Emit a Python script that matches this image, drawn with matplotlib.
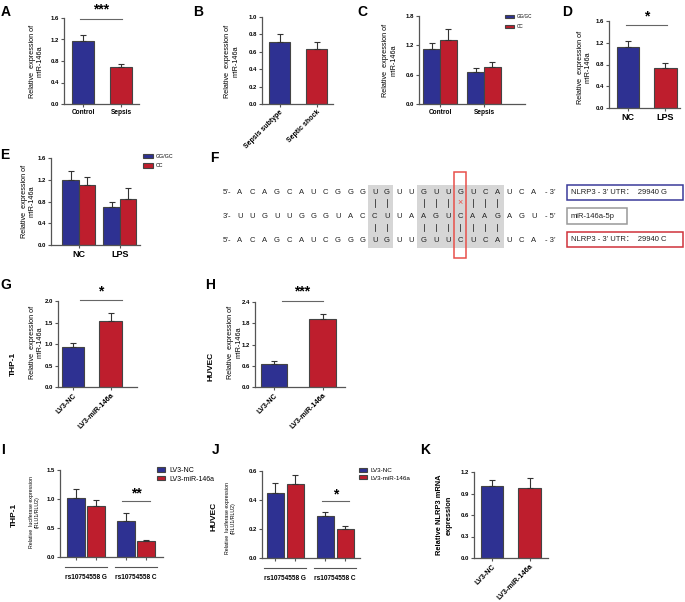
import numpy as np
import matplotlib
matplotlib.use('Agg')
import matplotlib.pyplot as plt
from matplotlib.patches import Rectangle

plt.rcParams['font.family'] = ['Liberation Sans', 'DejaVu Sans']

# ---- data ----
a_groups = ['Control', 'Sepsis']
a_mean = [1.18, 0.68]
a_err = [0.10, 0.06]

b_groups = ['Sepsis subtype', 'Septic shock']
b_mean = [0.71, 0.63]
b_err = [0.09, 0.08]

genotypes = ['GG/GC', 'CC']
c_groups = ['Control', 'Sepsis']
c_gg = [1.13, 0.66]
c_gg_err = [0.11, 0.08]
c_cc = [1.31, 0.75]
c_cc_err = [0.22, 0.10]

d_groups = ['NC', 'LPS']
d_mean = [1.13, 0.73]
d_err = [0.11, 0.10]

e_groups = ['NC', 'LPS']
e_gg = [1.19, 0.70]
e_gg_err = [0.17, 0.09]
e_cc = [1.11, 0.84]
e_cc_err = [0.14, 0.21]

lv_groups = ['LV3-NC', 'LV3-miR-146a']
g_mean = [0.93, 1.54]
g_err = [0.09, 0.17]
h_mean = [0.64, 1.91]
h_err = [0.09, 0.15]

snp_groups = ['rs10754558 G', 'rs10754558 C']
i_nc = [1.01, 0.62]
i_nc_err = [0.17, 0.14]
i_mir = [0.88, 0.28]
i_mir_err = [0.11, 0.01]
j_nc = [0.45, 0.29]
j_nc_err = [0.07, 0.03]
j_mir = [0.51, 0.20]
j_mir_err = [0.06, 0.02]

k_mean = [1.00, 0.98]
k_err = [0.09, 0.13]

# panel F sequences
seq_g = 'ACAGCAUCGGGUGUUGUUGUCAUCA'
mirna = 'UUGUUGGGUACCUUAAGUCAAGAGU'
seq_c = 'ACAGCAUCGGGUGUUGUUCUCAUCA'
pairs_top = [11, 12, 15, 16, 17, 19, 20, 21]
mismatch = 18
pairs_bot = [11, 12, 15, 16, 17, 18, 19, 20, 21]
seed_blocks = [(11, 12), (15, 21)]

W, H = 685, 602
BLUE = '#2e3192'
RED = '#be1e2d'
EDGE = '#444444'
AXC = '#555555'

fig = plt.figure(figsize=(W / 100, H / 100), dpi=100)


def panel(x0, y0, x1, y1, xlim):
    ax = fig.add_axes([x0 / W, 1 - y1 / H, (x1 - x0) / W, (y1 - y0) / H])
    ax.patch.set_alpha(0)
    for s in ['top', 'right']:
        ax.spines[s].set_visible(False)
    for s in ['left', 'bottom']:
        ax.spines[s].set_color(AXC)
        ax.spines[s].set_linewidth(0.9)
    ax.tick_params(colors=AXC, length=2.5, width=0.8, pad=1, labelsize=4.3,
                   labelcolor='black')
    ax.set_xlim(xlim)
    return ax


def yaxis(ax, top, step):
    ticks = np.arange(0, top + step / 2, step)
    ax.set_ylim(0, top)
    ax.set_yticks(ticks)
    ax.set_yticklabels(['%.1f' % t for t in ticks], fontweight='bold')


def bars(ax, x, mean, err, color, width, label=None):
    ax.bar(x, mean, width, color=color, edgecolor=EDGE, linewidth=0.8,
           label=label, zorder=2)
    ax.errorbar(x, mean, yerr=[np.zeros(len(mean)), err], fmt='none',
                ecolor='#333333', elinewidth=0.8, capsize=2, capthick=0.8, zorder=3)


def sig(ax, x0, x1, y, ystar, text, size=10):
    tr = ax.get_xaxis_transform()
    ax.plot([x0, x1], [y, y], color='#666666', lw=0.8, transform=tr, clip_on=False)
    ax.text((x0 + x1) / 2, ystar, text, transform=tr, ha='center', va='center',
            fontsize=size, fontweight='bold')


def xcats(ax, labels, size=4.7, rot=0, ticks=None):
    pos = np.arange(len(labels)) if ticks is None else ticks
    ax.set_xticks(pos)
    if rot:
        ax.set_xticklabels(labels, rotation=rot, ha='right', rotation_mode='anchor',
                           fontsize=size, fontweight='bold')
    else:
        ax.set_xticklabels(labels, fontsize=size, fontweight='bold')


def legend(ax, x, y, size, hl, hh, ls):
    ax.legend(loc='upper left', bbox_to_anchor=(x / W, 1 - y / H),
              bbox_transform=fig.transFigure, frameon=False, fontsize=size,
              handlelength=hl, handleheight=hh, handletextpad=0.6,
              labelspacing=ls, borderpad=0, borderaxespad=0)


x2 = np.arange(2)

# A
ax = panel(64, 18, 139, 104, (-0.5, 1.47))
bars(ax, x2, a_mean, a_err, [BLUE, RED], 0.58)
yaxis(ax, 1.6, 0.4)
xcats(ax, a_groups)
sig(ax, -0.08, 1.03, 0.99, 1.1, '***')

# B
ax = panel(262, 17, 333, 104, (-0.47, 1.43))
bars(ax, x2, b_mean, b_err, [BLUE, RED], 0.56)
yaxis(ax, 1.0, 0.2)
xcats(ax, b_groups, size=5, rot=45)

# C
ax = panel(419, 16, 525, 104, (-0.48, 1.93))
bars(ax, x2 - 0.19, c_gg, c_gg_err, BLUE, 0.38, genotypes[0])
bars(ax, x2 + 0.19, c_cc, c_cc_err, RED, 0.38, genotypes[1])
yaxis(ax, 1.8, 0.6)
xcats(ax, c_groups)
legend(ax, 505, 14, 3.3, 1.9, 0.9, 1.1)

# D
ax = panel(609, 21, 680, 108, (-0.51, 1.39))
bars(ax, x2, d_mean, d_err, [BLUE, RED], 0.6)
yaxis(ax, 1.6, 0.4)
xcats(ax, d_groups, size=6.5)
sig(ax, -0.05, 1.04, 0.954, 1.05, '*')

# E
ax = panel(51, 158, 140, 245, (-0.68, 1.49))
bars(ax, x2 - 0.2, e_gg, e_gg_err, BLUE, 0.4, genotypes[0])
bars(ax, x2 + 0.2, e_cc, e_cc_err, RED, 0.4, genotypes[1])
yaxis(ax, 1.6, 0.4)
xcats(ax, e_groups, size=6.5)
legend(ax, 143, 154, 3.8, 1.9, 0.9, 0.8)

# G
ax = panel(58, 301, 137, 387, (-0.4, 1.7))
bars(ax, x2, g_mean, g_err, [BLUE, RED], 0.6)
yaxis(ax, 2.0, 0.5)
xcats(ax, lv_groups, size=5.2, rot=45)
sig(ax, 0.19, 1.3, 1.01, 1.11, '*')

# H
ax = panel(255, 302, 345, 387, (-0.39, 1.46))
bars(ax, x2, h_mean, h_err, [BLUE, RED], 0.54)
yaxis(ax, 2.4, 0.6)
xcats(ax, lv_groups, size=5.2, rot=45)
sig(ax, 0.16, 1.01, 1.01, 1.12, '***')

# I
ax = panel(60, 470, 163, 557, (-0.52, 1.54))
bars(ax, x2 - 0.2, i_nc, i_nc_err, BLUE, 0.36, lv_groups[0])
bars(ax, x2 + 0.2, i_mir, i_mir_err, RED, 0.36, lv_groups[1])
yaxis(ax, 1.5, 0.5)
ax.set_xticks(np.concatenate([x2 - 0.2, x2 + 0.2]))
ax.set_xticklabels([])
sig(ax, 0.72, 1.28, 0.64, 0.73, '**')
tr = ax.get_xaxis_transform()
for k, name in enumerate(snp_groups):
    ax.plot([k - 0.42, k + 0.42], [-0.115, -0.115], color='#555555', lw=0.8,
            transform=tr, clip_on=False)
    ax.text(k, -0.23, name, transform=tr, ha='center', va='center', fontsize=4.7,
            fontweight='bold')
legend(ax, 157, 467, 5, 1.2, 0.6, 0.25)

# J
ax = panel(262, 471, 360, 558, (-0.47, 1.5))
bars(ax, x2 - 0.2, j_nc, j_nc_err, BLUE, 0.34, lv_groups[0])
bars(ax, x2 + 0.2, j_mir, j_mir_err, RED, 0.34, lv_groups[1])
yaxis(ax, 0.6, 0.2)
ax.set_xticks(np.concatenate([x2 - 0.2, x2 + 0.2]))
ax.set_xticklabels([])
sig(ax, 0.74, 1.28, 0.655, 0.73, '*')
tr = ax.get_xaxis_transform()
for k, name in enumerate(snp_groups):
    ax.plot([k - 0.42, k + 0.42], [-0.115, -0.115], color='#555555', lw=0.8,
            transform=tr, clip_on=False)
    ax.text(k, -0.23, name, transform=tr, ha='center', va='center', fontsize=4.7,
            fontweight='bold')
legend(ax, 359, 468, 4.5, 1.3, 0.6, 0.35)

# K
ax = panel(474, 472, 548, 558, (-0.48, 1.49))
bars(ax, x2, k_mean, k_err, [BLUE, RED], 0.6)
yaxis(ax, 1.2, 0.3)
xcats(ax, lv_groups, size=5.2, rot=45)

# ---- overlay in pixel coordinates: letters, axis titles, panel F ----
ov = fig.add_axes([0, 0, 1, 1])
ov.set_xlim(0, W)
ov.set_ylim(H, 0)
ov.axis('off')

letters = {'A': (1, 12), 'B': (193, 12), 'C': (357, 12), 'D': (562, 12),
           'E': (0, 155), 'F': (210, 158), 'G': (0, 285), 'H': (205, 285),
           'I': (1, 450), 'J': (212, 450), 'K': (420, 450)}
for name, (x, y) in letters.items():
    ov.text(x, y, name, ha='left', va='center', fontsize=10, fontweight='bold')

ylab = 'Relative  expression of\nmiR-146a'
for x, y in [(36.5, 61), (232, 61), (390, 60), (584.5, 67), (28.5, 201),
             (36.5, 342), (235, 342)]:
    ov.text(x, y, ylab, rotation=90, ha='center', va='center', fontsize=5.2,
            linespacing=1.2)
luc = 'Relative  luciferase expression\n(RLU1/RLU2)'
for x, y in [(34, 512), (230.5, 518)]:
    ov.text(x, y, luc, rotation=90, ha='center', va='center', fontsize=3.8,
            linespacing=1.15)
ov.text(444.5, 515, 'Relative NLRP3 mRNA\nexpression', rotation=90, ha='center',
        va='center', fontsize=5.4, fontweight='bold', linespacing=1.7)
for x, y, s in [(13.5, 364, 'THP-1'), (211.5, 366, 'HUVEC'),
                (14.5, 515, 'THP-1'), (214, 516, 'HUVEC')]:
    ov.text(x, y, s, rotation=90, ha='center', va='center', fontsize=6,
            fontweight='bold')

# panel F alignment
col_x = 240 + 12.25 * np.arange(len(seq_g))
row_y = [193, 217, 240]
for a, b in seed_blocks:
    ov.add_patch(Rectangle((col_x[a] - 6.3, 185), col_x[b] - col_x[a] + 12.6, 63,
                           facecolor='#d6d6d6', edgecolor='none', zorder=1))
ov.add_patch(Rectangle((col_x[mismatch] - 6, 172), 12, 86, facecolor='none',
                       edgecolor='#e8504a', lw=1.1, zorder=3))
rows = [(seq_g, '5’-', '- 3’'), (mirna, '3’-', '- 5’'), (seq_c, '5’-', '- 3’')]
for (seq, pre, post), y in zip(rows, row_y):
    ov.text(226.5, y, pre, ha='center', va='center', fontsize=5.5, color='#222222')
    ov.text(550, y, post, ha='center', va='center', fontsize=5.5, color='#222222')
    for ch, x in zip(seq, col_x):
        ov.text(x, y, ch, ha='center', va='center', fontsize=5.5, color='#222222',
                zorder=2)
for i in pairs_top:
    ov.plot([col_x[i], col_x[i]], [199, 206.5], color='#333333', lw=0.6, zorder=2)
ov.text(col_x[mismatch], 203, '×', ha='center', va='center', fontsize=6.5,
        color='#e8504a', zorder=2)
for i in pairs_bot:
    ov.plot([col_x[i], col_x[i]], [223.5, 231], color='#333333', lw=0.6, zorder=2)

boxes = [((567, 185, 116, 15), '#3a3a9a', 'NLRP3 - 3’ UTR：  29940 G'),
         ((567, 208, 60, 16), '#999999', 'miR-146a-5p'),
         ((567, 232, 116, 15), '#d0323a', 'NLRP3 - 3’ UTR：  29940 C')]
for (x, y, w, h), ec, s in boxes:
    ov.add_patch(Rectangle((x, y), w, h, facecolor='none', edgecolor=ec, lw=1.1))
    ov.text(x + 4, y + h / 2, s, ha='left', va='center', fontsize=5.5,
            color='#222222', family=['Liberation Sans', 'Noto Sans CJK SC'])

fig.savefig('out.png', dpi=100)
